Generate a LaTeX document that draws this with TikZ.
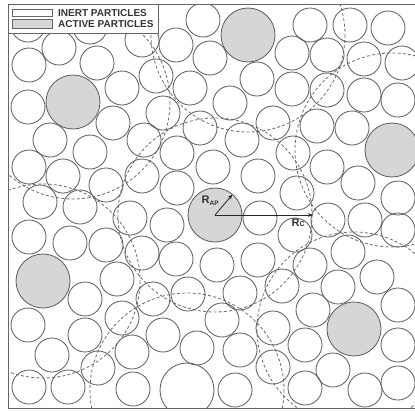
\documentclass[tikz,border=0pt]{standalone}
\usepackage{fontspec}
\setmainfont{Liberation Sans}
\usetikzlibrary{arrows.meta}
\begin{document}
\begin{tikzpicture}[x=1pt,y=-1pt,
  inert/.style={draw=black!62, line width=0.85pt},
  active/.style={draw=black!62, fill=black!16, line width=0.85pt},
  activefill/.style={fill=black!16},
  cell/.style={draw=black!58, dash pattern=on 3pt off 2.2pt, line width=0.8pt},
  frameline/.style={draw=black!60, line width=0.8pt},
  lbl/.style={font=\bfseries\fontsize{10}{12}\selectfont, text=black!80, inner sep=0pt, anchor=base west},
  rlbl/.style={font=\bfseries\fontsize{11}{12}\selectfont, text=black!80, inner sep=0pt, anchor=base west},
  arr/.style={-{Stealth[length=5pt,width=3.6pt]}, line width=0.8pt, draw=black!85}]
\useasboundingbox (0,0) rectangle (415,410);
\begin{scope}
\clip (8,4) rectangle (415,408);
% active particle fills
\foreach \x/\y in {73/102,248/35,392/150,215/215,43/281,354/329}
  \fill[activefill] (\x,\y) circle (27);
% cell circles
\foreach \x/\y in {73/102,248/35,392/150,215/215,43/281,354/329,187/390}
  \draw[cell] (\x,\y) circle (97);
% inert particles
\foreach \x/\y in {
 28/25,90/27,142/40,176/45,203/20,310/25,350/25,388/28,
 59/48,29/65,97/63,210/58,292/53,327/55,364/59,402/63,
 156/76,190/88,122/88,28/107,257/79,292/89,327/90,364/95,398/100,
 163/113,113/123,200/128,230/103,273/123,317/126,352/128,
 50/140,144/140,90/152,242/140,177/153,213/167,293/153,327/167,358/183,
 29/167,63/176,106/185,142/176,177/188,258/176,297/193,398/198,
 40/202,80/207,130/218,167/225,260/218,328/220,365/220,398/230,295/235,
 29/237,70/243,106/245,142/253,176/259,217/265,258/260,310/265,348/252,377/277,
 117/279,85/299,153/299,188/294,240/293,282/286,338/287,398/305,
 28/325,122/318,85/335,163/335,197/348,222/320,273/328,313/310,
 52/355,132/352,98/368,240/350,305/345,398/345,
 29/387,68/387,133/389,235/390,273/367,333/370,305/388,365/390,398/383}
  \draw[inert] (\x,\y) circle (17);
\draw[inert] (187,390) circle (27);
% active particle outlines
\foreach \x/\y in {73/102,248/35,392/150,215/215,43/281,354/329}
  \draw[active, fill=none] (\x,\y) circle (27);
\end{scope}
% frame
\draw[frameline] (415,4) -- (8,4) -- (8,408) -- (415,408);
% legend
\draw[frameline, fill=white] (8,4) rectangle (158,33);
\draw[draw=black!60, line width=0.7pt, fill=white] (12.7,9) rectangle (52.7,16.7);
\draw[draw=black!60, line width=0.7pt, fill=black!16] (12.7,19.5) rectangle (52.7,28.3);
\node[lbl] (tinert) at (58,16.7) {INERT PARTICLES};
\node[lbl] (tactive) at (58,27.9) {ACTIVE PARTICLES};
% radii
\coordinate (c) at (215,215);
\coordinate (pap) at (232.5,194.5);
\coordinate (pc) at (313,215);
\draw[arr] (c) -- (pap);
\draw[arr] (c) -- (pc);
\node[rlbl] (rap) at (201.5,203.3) {R\raisebox{-1.8pt}{\fontsize{6.5}{7}\selectfont AP}};
\node[rlbl] (rc) at (291.5,226.7) {R\raisebox{0pt}{\fontsize{7}{7}\selectfont C}};
\end{tikzpicture}
\end{document}
